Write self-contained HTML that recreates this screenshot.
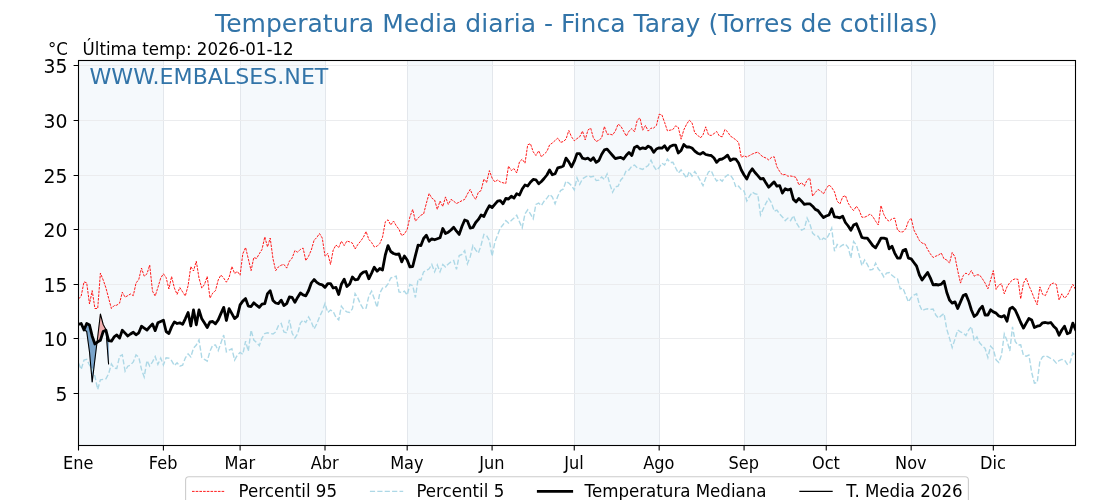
<!DOCTYPE html>
<html lang="es"><head><meta charset="utf-8"><title>Temperatura Media diaria - Finca Taray (Torres de cotillas)</title>
<style>html,body{margin:0;padding:0;background:#fff;overflow:hidden}svg{display:block}text{font-family:"DejaVu Sans", "Liberation Sans", sans-serif;fill:#000}</style></head><body>
<svg width="1120" height="500" viewBox="0 0 1120 500">
<rect width="1120" height="500" fill="#fff"/>
<rect x="78.50" y="60.50" width="84.91" height="385.00" fill="#f5f9fc"/>
<rect x="240.10" y="60.50" width="84.91" height="385.00" fill="#f5f9fc"/>
<rect x="407.18" y="60.50" width="84.91" height="385.00" fill="#f5f9fc"/>
<rect x="574.26" y="60.50" width="84.91" height="385.00" fill="#f5f9fc"/>
<rect x="744.08" y="60.50" width="82.17" height="385.00" fill="#f5f9fc"/>
<rect x="911.16" y="60.50" width="82.17" height="385.00" fill="#f5f9fc"/>
<path d="M163.50 60.50 V445.50 M240.50 60.50 V445.50 M325.50 60.50 V445.50 M407.50 60.50 V445.50 M492.50 60.50 V445.50 M574.50 60.50 V445.50 M659.50 60.50 V445.50 M744.50 60.50 V445.50 M826.50 60.50 V445.50 M911.50 60.50 V445.50 M993.50 60.50 V445.50" stroke="#e3e7ec" stroke-width="1" fill="none"/>
<path d="M78.50 393.50 H1075.50 M78.50 338.50 H1075.50 M78.50 284.50 H1075.50 M78.50 229.50 H1075.50 M78.50 175.50 H1075.50 M78.50 120.50 H1075.50 M78.50 65.50 H1075.50" stroke="#ebecee" stroke-width="1" fill="none"/>
<clipPath id="c"><rect x="78.50" y="60.50" width="997.00" height="385.00"/></clipPath>
<g clip-path="url(#c)" fill="none" stroke-linejoin="round">
<path d="M78.5 324.6 L81.2 323.8 L81.2 323.5 L78.5 324.4Z M81.2 323.8 L82.3 325.9 L81.2 323.5Z M84.1 329.6 L86.7 331.5 L86.7 323.5Z M86.7 331.5 L89.5 352.0 L89.5 325.0 L86.7 323.5Z M89.5 352.0 L92.2 382.0 L92.2 336.2 L89.5 325.0Z M92.2 382.0 L94.9 359.5 L94.9 344.0 L92.2 336.2Z M94.9 359.5 L97.0 342.4 L94.9 344.0Z M106.0 330.6 L108.6 364.4 L108.6 340.6Z" fill="#79a4cb" stroke="#79a4cb" stroke-width="0.4"/>
<path d="M82.3 325.9 L84.0 329.5 L84.0 330.0Z M84.0 329.5 L84.1 329.6 L84.0 330.0Z M97.0 342.4 L97.7 337.0 L97.7 341.9Z M97.7 337.0 L100.4 314.0 L100.4 340.2 L97.7 341.9Z M100.4 314.0 L103.2 324.5 L103.2 331.5 L100.4 340.2Z M103.2 324.5 L105.9 329.5 L105.9 330.2 L103.2 331.5Z M105.9 329.5 L106.0 330.6 L105.9 330.2Z" fill="#f1aeae" stroke="#f1aeae" stroke-width="0.4"/>
<path d="M78.5 299.0 L81.2 296.0 L84.0 281.9 L86.7 282.8 L89.5 304.0 L92.2 290.6 L94.9 308.5 L97.7 308.5 L100.4 273.1 L103.2 280.0 L105.9 287.8 L108.6 298.1 L111.4 308.5 L114.1 305.6 L116.8 305.2 L119.6 303.1 L122.3 292.2 L125.1 297.2 L127.8 295.6 L130.5 294.0 L133.3 295.6 L136.0 283.1 L138.8 279.4 L141.5 268.1 L144.2 276.2 L147.0 273.8 L149.7 265.0 L152.5 291.2 L155.2 296.0 L157.9 287.5 L160.7 278.1 L163.4 273.8 L166.1 277.5 L168.9 289.0 L171.6 276.5 L174.4 288.1 L177.1 294.4 L179.8 287.5 L182.6 291.9 L185.3 296.0 L188.1 285.6 L190.8 266.5 L193.5 271.0 L196.3 261.2 L199.0 278.1 L201.8 288.1 L204.5 284.4 L207.2 276.5 L210.0 298.1 L212.7 293.1 L215.5 290.6 L218.2 280.0 L220.9 275.0 L223.7 278.1 L226.4 282.2 L229.1 277.5 L231.9 266.5 L234.6 273.5 L237.4 271.5 L240.1 275.2 L242.8 253.8 L245.6 247.5 L248.3 258.8 L251.1 270.6 L253.8 257.5 L256.5 258.5 L259.3 253.8 L262.0 249.4 L264.8 236.9 L267.5 246.9 L270.2 238.1 L273.0 258.8 L275.7 270.6 L278.4 266.9 L281.2 265.2 L283.9 264.4 L286.7 268.1 L289.4 261.2 L292.1 258.1 L294.9 250.6 L297.6 252.2 L300.4 249.4 L303.1 248.1 L305.8 260.6 L308.6 256.2 L311.3 250.0 L314.1 240.2 L316.8 237.5 L319.5 233.5 L322.3 238.1 L325.0 256.2 L327.8 253.5 L330.5 264.4 L333.2 250.0 L336.0 245.0 L338.7 247.5 L341.4 241.2 L344.2 245.6 L346.9 241.0 L349.7 241.9 L352.4 243.1 L355.1 249.0 L357.9 244.4 L360.6 241.2 L363.4 237.2 L366.1 231.5 L368.8 239.4 L371.6 242.5 L374.3 246.9 L377.1 246.2 L379.8 243.5 L382.5 237.2 L385.3 221.9 L388.0 219.8 L390.7 225.0 L393.5 221.0 L396.2 225.6 L399.0 229.4 L401.7 235.6 L404.4 234.0 L407.2 229.4 L409.9 216.9 L412.7 209.4 L415.4 221.2 L418.1 218.1 L420.9 215.2 L423.6 214.0 L426.4 203.1 L429.1 193.5 L431.8 198.1 L434.6 200.0 L437.3 209.4 L440.0 201.0 L442.8 206.5 L445.5 196.9 L448.3 204.4 L451.0 199.4 L453.7 201.2 L456.5 203.5 L459.2 202.2 L462.0 200.6 L464.7 199.4 L467.4 194.0 L470.2 189.4 L472.9 195.6 L475.7 199.4 L478.4 192.2 L481.1 190.6 L483.9 179.0 L486.6 182.5 L489.4 170.6 L492.1 178.1 L494.8 181.9 L497.6 180.0 L500.3 181.9 L503.0 182.8 L505.8 183.5 L508.5 166.1 L511.3 170.5 L514.0 168.6 L516.7 173.0 L519.5 161.8 L522.2 159.2 L525.0 163.2 L527.7 144.9 L530.4 143.6 L533.2 151.8 L535.9 155.5 L538.7 150.8 L541.4 156.8 L544.1 154.2 L546.9 151.5 L549.6 144.9 L552.3 143.0 L555.1 140.5 L557.8 138.0 L560.6 142.4 L563.3 141.5 L566.0 139.2 L568.8 130.5 L571.5 136.8 L574.3 140.8 L577.0 138.6 L579.7 136.8 L582.5 131.1 L585.2 139.9 L588.0 129.9 L590.7 128.2 L593.4 138.0 L596.2 141.5 L598.9 140.2 L601.7 137.8 L604.4 126.5 L607.1 134.2 L609.9 134.2 L612.6 134.9 L615.3 131.1 L618.1 124.2 L620.8 126.1 L623.6 131.1 L626.3 136.1 L629.0 131.1 L631.8 128.6 L634.5 131.8 L637.3 119.9 L640.0 118.0 L642.7 130.2 L645.5 125.5 L648.2 131.1 L651.0 128.2 L653.7 128.0 L656.4 125.5 L659.2 114.2 L661.9 114.9 L664.6 122.4 L667.4 130.8 L670.1 130.2 L672.9 129.5 L675.6 125.8 L678.3 127.4 L681.1 139.2 L683.8 129.9 L686.6 124.2 L689.3 120.2 L692.0 122.8 L694.8 133.0 L697.5 134.9 L700.3 138.0 L703.0 134.9 L705.7 126.8 L708.5 134.9 L711.2 135.5 L714.0 133.6 L716.7 131.5 L719.4 136.1 L722.2 136.8 L724.9 129.5 L727.6 131.8 L730.4 136.1 L733.1 137.8 L735.9 139.9 L738.6 142.4 L741.3 157.4 L744.1 155.8 L746.8 157.0 L749.6 155.5 L752.3 154.0 L755.0 153.0 L757.8 152.0 L760.5 154.9 L763.3 157.0 L766.0 158.0 L768.7 159.9 L771.5 157.4 L774.2 156.8 L776.9 166.8 L779.7 171.5 L782.4 175.0 L785.2 174.4 L787.9 176.2 L790.6 176.0 L793.4 176.5 L796.1 177.5 L798.9 185.0 L801.6 182.5 L804.3 186.2 L807.1 180.0 L809.8 178.1 L812.6 196.2 L815.3 192.5 L818.0 189.4 L820.8 191.2 L823.5 193.8 L826.2 188.8 L829.0 184.8 L831.7 187.5 L834.5 191.9 L837.2 201.2 L839.9 204.0 L842.7 196.9 L845.4 195.6 L848.2 203.1 L850.9 207.5 L853.6 210.6 L856.4 206.2 L859.1 210.0 L861.9 217.2 L864.6 217.2 L867.3 216.0 L870.1 214.0 L872.8 216.5 L875.6 221.2 L878.3 225.0 L881.0 205.6 L883.8 214.4 L886.5 219.4 L889.2 221.2 L892.0 218.8 L894.7 218.1 L897.5 230.0 L900.2 231.9 L902.9 231.9 L905.7 228.8 L908.4 221.2 L911.2 218.1 L913.9 230.0 L916.6 235.0 L919.4 240.6 L922.1 243.1 L924.9 243.8 L927.6 249.4 L930.3 253.8 L933.1 257.5 L935.8 256.2 L938.5 255.0 L941.3 253.1 L944.0 258.8 L946.8 260.0 L949.5 263.1 L952.2 252.5 L955.0 256.9 L957.7 270.6 L960.5 283.1 L963.2 275.6 L965.9 273.1 L968.7 274.8 L971.4 270.6 L974.2 276.2 L976.9 274.8 L979.6 275.0 L982.4 278.8 L985.1 283.1 L987.9 288.8 L990.6 280.0 L993.3 270.6 L996.1 289.4 L998.8 285.0 L1001.5 283.8 L1004.3 293.8 L1007.0 286.9 L1009.8 282.5 L1012.5 280.0 L1015.2 278.8 L1018.0 279.4 L1020.7 298.8 L1023.5 283.1 L1026.2 278.1 L1028.9 285.6 L1031.7 291.9 L1034.4 298.8 L1037.2 304.8 L1039.9 286.9 L1042.6 294.4 L1045.4 295.6 L1048.1 289.4 L1050.8 284.0 L1053.6 283.1 L1056.3 284.4 L1059.1 300.0 L1061.8 293.8 L1064.5 298.1 L1067.3 295.6 L1070.0 290.0 L1072.8 284.4 L1075.5 289.4" stroke="#ff0000" stroke-width="0.9" stroke-dasharray="2.6 1.1" stroke-linejoin="miter"/>
<path d="M78.5 363.1 L81.2 369.4 L84.0 360.0 L86.7 359.4 L89.5 365.0 L92.2 369.4 L94.9 376.2 L97.7 389.4 L100.4 379.8 L103.2 379.4 L105.9 378.8 L108.6 373.8 L111.4 364.0 L114.1 368.1 L116.8 368.5 L119.6 356.2 L122.3 354.8 L125.1 371.2 L127.8 366.2 L130.5 365.0 L133.3 361.9 L136.0 355.0 L138.8 357.2 L141.5 369.4 L144.2 376.9 L147.0 360.6 L149.7 366.0 L152.5 361.9 L155.2 356.5 L157.9 364.4 L160.7 358.1 L163.4 365.0 L166.1 357.8 L168.9 358.1 L171.6 360.6 L174.4 365.6 L177.1 362.8 L179.8 366.2 L182.6 365.2 L185.3 358.1 L188.1 353.8 L190.8 356.9 L193.5 348.1 L196.3 345.0 L199.0 340.0 L201.8 357.5 L204.5 359.4 L207.2 361.2 L210.0 351.2 L212.7 345.2 L215.5 345.0 L218.2 350.6 L220.9 343.1 L223.7 335.0 L226.4 351.9 L229.1 350.0 L231.9 348.8 L234.6 360.0 L237.4 355.0 L240.1 352.5 L242.8 354.4 L245.6 341.2 L248.3 351.2 L251.1 330.0 L253.8 340.0 L256.5 342.5 L259.3 345.6 L262.0 338.1 L264.8 333.5 L267.5 332.8 L270.2 333.5 L273.0 334.0 L275.7 331.9 L278.4 325.6 L281.2 323.5 L283.9 331.9 L286.7 332.8 L289.4 319.8 L292.1 333.1 L294.9 338.1 L297.6 333.8 L300.4 323.1 L303.1 320.2 L305.8 322.5 L308.6 316.9 L311.3 321.9 L314.1 329.0 L316.8 323.8 L319.5 316.9 L322.3 311.0 L325.0 303.5 L327.8 312.5 L330.5 310.0 L333.2 311.5 L336.0 317.5 L338.7 320.0 L341.4 306.2 L344.2 310.0 L346.9 311.9 L349.7 312.5 L352.4 308.8 L355.1 293.6 L357.9 298.1 L360.6 304.4 L363.4 309.0 L366.1 308.1 L368.8 296.2 L371.6 291.2 L374.3 298.8 L377.1 307.5 L379.8 293.1 L382.5 288.1 L385.3 287.5 L388.0 283.8 L390.7 278.1 L393.5 276.9 L396.2 276.2 L399.0 291.9 L401.7 292.5 L404.4 291.2 L407.2 295.0 L409.9 284.4 L412.7 285.6 L415.4 297.5 L418.1 278.8 L420.9 280.0 L423.6 271.9 L426.4 270.6 L429.1 268.8 L431.8 264.4 L434.6 271.9 L437.3 265.0 L440.0 271.9 L442.8 264.4 L445.5 266.9 L448.3 264.0 L451.0 261.9 L453.7 260.6 L456.5 269.4 L459.2 255.6 L462.0 254.4 L464.7 250.6 L467.4 263.8 L470.2 256.9 L472.9 245.6 L475.7 250.0 L478.4 253.1 L481.1 245.0 L483.9 234.4 L486.6 235.6 L489.4 240.6 L492.1 256.2 L494.8 242.5 L497.6 235.0 L500.3 228.1 L503.0 224.8 L505.8 220.6 L508.5 223.1 L511.3 220.6 L514.0 218.1 L516.7 215.2 L519.5 221.9 L522.2 227.8 L525.0 213.8 L527.7 209.8 L530.4 213.8 L533.2 218.8 L535.9 204.4 L538.7 203.1 L541.4 205.6 L544.1 201.2 L546.9 198.1 L549.6 194.4 L552.3 196.9 L555.1 203.8 L557.8 196.2 L560.6 190.6 L563.3 189.0 L566.0 181.2 L568.8 183.1 L571.5 185.6 L574.3 190.0 L577.0 177.8 L579.7 184.4 L582.5 178.8 L585.2 177.2 L588.0 175.6 L590.7 176.9 L593.4 176.2 L596.2 180.6 L598.9 180.2 L601.7 176.9 L604.4 179.4 L607.1 174.0 L609.9 184.4 L612.6 192.2 L615.3 186.9 L618.1 186.2 L620.8 180.0 L623.6 176.9 L626.3 170.2 L629.0 170.0 L631.8 166.2 L634.5 165.0 L637.3 167.8 L640.0 168.5 L642.7 169.4 L645.5 167.2 L648.2 165.6 L651.0 160.2 L653.7 166.2 L656.4 170.2 L659.2 167.5 L661.9 163.1 L664.6 165.0 L667.4 159.0 L670.1 162.5 L672.9 162.2 L675.6 167.8 L678.3 173.1 L681.1 170.0 L683.8 174.0 L686.6 178.1 L689.3 171.5 L692.0 176.2 L694.8 171.5 L697.5 175.6 L700.3 180.6 L703.0 185.6 L705.7 178.1 L708.5 171.9 L711.2 170.6 L714.0 176.9 L716.7 181.0 L719.4 179.0 L722.2 181.2 L724.9 177.2 L727.6 175.0 L730.4 175.0 L733.1 179.0 L735.9 187.2 L738.6 186.2 L741.3 189.8 L744.1 191.0 L746.8 201.0 L749.6 196.2 L752.3 192.2 L755.0 193.8 L757.8 194.4 L760.5 215.0 L763.3 208.8 L766.0 203.1 L768.7 198.5 L771.5 202.8 L774.2 211.2 L776.9 210.2 L779.7 214.0 L782.4 216.9 L785.2 220.6 L787.9 218.1 L790.6 220.6 L793.4 215.6 L796.1 222.5 L798.9 226.9 L801.6 230.2 L804.3 228.8 L807.1 218.1 L809.8 223.8 L812.6 233.1 L815.3 235.6 L818.0 236.2 L820.8 240.6 L823.5 238.1 L826.2 239.4 L829.0 234.4 L831.7 228.1 L834.5 251.2 L837.2 244.4 L839.9 246.9 L842.7 245.0 L845.4 244.0 L848.2 247.5 L850.9 258.1 L853.6 241.5 L856.4 245.0 L859.1 255.0 L861.9 265.6 L864.6 260.0 L867.3 264.4 L870.1 270.0 L872.8 269.4 L875.6 263.1 L878.3 269.0 L881.0 271.9 L883.8 276.9 L886.5 273.1 L889.2 272.5 L892.0 275.2 L894.7 277.5 L897.5 278.8 L900.2 288.8 L902.9 288.1 L905.7 295.0 L908.4 301.9 L911.2 297.5 L913.9 295.0 L916.6 293.8 L919.4 304.8 L922.1 310.6 L924.9 309.4 L927.6 308.8 L930.3 309.4 L933.1 309.0 L935.8 315.0 L938.5 318.1 L941.3 315.6 L944.0 313.5 L946.8 329.4 L949.5 338.1 L952.2 347.5 L955.0 339.0 L957.7 330.0 L960.5 331.9 L963.2 333.1 L965.9 335.6 L968.7 330.0 L971.4 326.6 L974.2 340.6 L976.9 336.9 L979.6 342.8 L982.4 346.0 L985.1 348.5 L987.9 357.5 L990.6 346.2 L993.3 349.0 L996.1 360.0 L998.8 362.5 L1001.5 355.0 L1004.3 334.0 L1007.0 340.6 L1009.8 351.0 L1012.5 326.9 L1015.2 341.5 L1018.0 345.0 L1020.7 344.8 L1023.5 355.6 L1026.2 356.2 L1028.9 355.0 L1031.7 372.5 L1034.4 383.1 L1037.2 382.5 L1039.9 361.2 L1042.6 356.9 L1045.4 355.6 L1048.1 356.9 L1050.8 358.5 L1053.6 360.0 L1056.3 363.1 L1059.1 360.6 L1061.8 359.4 L1064.5 360.0 L1067.3 364.4 L1070.0 362.8 L1072.8 353.1 L1075.5 355.6" stroke="#add8e6" stroke-width="1.4" stroke-dasharray="5.2 2.2" stroke-linejoin="miter"/>
<path d="M78.5 324.4 L81.2 323.5 L84.0 330.0 L86.7 323.5 L89.5 325.0 L92.2 336.2 L94.9 344.0 L97.7 341.9 L100.4 340.2 L103.2 331.5 L105.9 330.2 L108.6 340.6 L111.4 341.2 L114.1 336.9 L116.8 335.0 L119.6 338.1 L122.3 330.2 L125.1 333.1 L127.8 336.0 L130.5 334.0 L133.3 332.2 L136.0 334.8 L138.8 332.8 L141.5 326.2 L144.2 328.1 L147.0 330.0 L149.7 326.9 L152.5 324.0 L155.2 330.6 L157.9 322.8 L160.7 321.5 L163.4 320.2 L166.1 331.5 L168.9 333.5 L171.6 326.9 L174.4 321.9 L177.1 323.5 L179.8 322.8 L182.6 324.4 L185.3 318.8 L188.1 312.5 L190.8 326.0 L193.5 310.0 L196.3 324.8 L199.0 310.0 L201.8 318.8 L204.5 323.1 L207.2 327.5 L210.0 321.9 L212.7 321.5 L215.5 323.8 L218.2 319.9 L220.9 313.6 L223.7 307.4 L226.4 320.5 L229.1 308.6 L231.9 313.6 L234.6 318.6 L237.4 316.1 L240.1 304.9 L242.8 301.1 L245.6 298.6 L248.3 306.1 L251.1 306.5 L253.8 302.8 L256.5 305.2 L259.3 307.4 L262.0 304.2 L264.8 303.6 L267.5 293.6 L270.2 290.8 L273.0 300.5 L275.7 303.0 L278.4 303.6 L281.2 300.2 L283.9 305.5 L286.7 303.6 L289.4 297.0 L292.1 297.4 L294.9 302.4 L297.6 297.4 L300.4 293.0 L303.1 294.9 L305.8 295.8 L308.6 290.5 L311.3 283.0 L314.1 279.5 L316.8 282.4 L319.5 284.2 L322.3 284.9 L325.0 287.4 L327.8 283.6 L330.5 283.6 L333.2 288.0 L336.0 287.4 L338.7 294.5 L341.4 284.2 L344.2 279.2 L346.9 286.5 L349.7 284.0 L352.4 277.0 L355.1 279.9 L357.9 279.4 L360.6 274.4 L363.4 272.2 L366.1 271.5 L368.8 278.8 L371.6 273.1 L374.3 267.2 L377.1 271.2 L379.8 268.5 L382.5 270.0 L385.3 255.0 L388.0 245.6 L390.7 251.5 L393.5 253.5 L396.2 254.4 L399.0 254.0 L401.7 261.9 L404.4 256.0 L407.2 260.0 L409.9 266.9 L412.7 266.5 L415.4 255.6 L418.1 245.2 L420.9 245.6 L423.6 238.5 L426.4 235.2 L429.1 241.2 L431.8 238.8 L434.6 239.8 L437.3 238.8 L440.0 237.8 L442.8 228.5 L445.5 233.5 L448.3 232.2 L451.0 230.0 L453.7 227.2 L456.5 231.2 L459.2 234.4 L462.0 226.2 L464.7 220.0 L467.4 221.0 L470.2 228.1 L472.9 227.5 L475.7 222.5 L478.4 219.4 L481.1 215.0 L483.9 216.5 L486.6 210.6 L489.4 205.6 L492.1 207.5 L494.8 204.4 L497.6 201.2 L500.3 200.6 L503.0 203.8 L505.8 198.5 L508.5 199.0 L511.3 196.2 L514.0 198.1 L516.7 193.8 L519.5 195.0 L522.2 189.0 L525.0 185.0 L527.7 186.0 L530.4 182.2 L533.2 179.4 L535.9 179.8 L538.7 183.8 L541.4 181.5 L544.1 178.5 L546.9 175.0 L549.6 170.0 L552.3 174.8 L555.1 173.8 L557.8 167.8 L560.6 167.2 L563.3 166.0 L566.0 158.1 L568.8 161.9 L571.5 166.9 L574.3 161.2 L577.0 153.6 L579.7 153.6 L582.5 158.2 L585.2 159.0 L588.0 158.2 L590.7 160.5 L593.4 157.8 L596.2 162.4 L598.9 160.5 L601.7 154.2 L604.4 149.9 L607.1 149.2 L609.9 152.4 L612.6 155.5 L615.3 158.6 L618.1 157.8 L620.8 157.4 L623.6 159.0 L626.3 155.2 L629.0 152.4 L631.8 155.5 L634.5 147.4 L637.3 146.1 L640.0 149.0 L642.7 147.8 L645.5 148.6 L648.2 146.1 L651.0 147.8 L653.7 152.4 L656.4 149.0 L659.2 147.8 L661.9 148.2 L664.6 145.8 L667.4 150.2 L670.1 146.5 L672.9 145.2 L675.6 145.2 L678.3 153.0 L681.1 150.5 L683.8 144.5 L686.6 147.0 L689.3 147.0 L692.0 148.0 L694.8 151.1 L697.5 153.2 L700.3 154.2 L703.0 152.4 L705.7 154.5 L708.5 155.2 L711.2 155.5 L714.0 158.0 L716.7 162.4 L719.4 159.5 L722.2 159.0 L724.9 157.4 L727.6 155.2 L730.4 160.5 L733.1 159.0 L735.9 159.2 L738.6 163.0 L741.3 170.0 L744.1 175.0 L746.8 179.0 L749.6 172.5 L752.3 168.8 L755.0 172.5 L757.8 175.6 L760.5 178.8 L763.3 178.5 L766.0 183.1 L768.7 187.2 L771.5 184.4 L774.2 181.9 L776.9 186.2 L779.7 185.6 L782.4 193.1 L785.2 188.8 L787.9 190.0 L790.6 189.0 L793.4 199.4 L796.1 201.9 L798.9 198.5 L801.6 201.2 L804.3 204.4 L807.1 203.8 L809.8 203.8 L812.6 206.2 L815.3 209.4 L818.0 210.6 L820.8 214.4 L823.5 217.5 L826.2 216.0 L829.0 215.0 L831.7 208.8 L834.5 216.9 L837.2 217.2 L839.9 217.8 L842.7 216.2 L845.4 222.5 L848.2 226.0 L850.9 230.2 L853.6 225.1 L856.4 223.8 L859.1 230.2 L861.9 237.5 L864.6 238.1 L867.3 238.1 L870.1 241.9 L872.8 245.6 L875.6 247.8 L878.3 243.1 L881.0 238.1 L883.8 238.1 L886.5 238.8 L889.2 248.8 L892.0 246.2 L894.7 253.1 L897.5 258.1 L900.2 258.1 L902.9 250.6 L905.7 249.4 L908.4 258.1 L911.2 258.8 L913.9 262.5 L916.6 266.2 L919.4 275.0 L922.1 280.0 L924.9 276.2 L927.6 272.5 L930.3 277.9 L933.1 284.8 L935.8 284.5 L938.5 285.0 L941.3 284.1 L944.0 281.2 L946.8 292.5 L949.5 300.0 L952.2 303.1 L955.0 301.9 L957.7 308.5 L960.5 301.9 L963.2 295.6 L965.9 294.4 L968.7 301.2 L971.4 310.0 L974.2 316.5 L976.9 314.4 L979.6 309.4 L982.4 306.2 L985.1 315.0 L987.9 315.0 L990.6 309.8 L993.3 311.9 L996.1 313.1 L998.8 316.0 L1001.5 316.9 L1004.3 315.6 L1007.0 321.2 L1009.8 308.8 L1012.5 307.2 L1015.2 310.0 L1018.0 316.2 L1020.7 322.5 L1023.5 328.1 L1026.2 323.1 L1028.9 318.5 L1031.7 320.0 L1034.4 327.5 L1037.2 326.2 L1039.9 325.6 L1042.6 322.8 L1045.4 322.5 L1048.1 323.1 L1050.8 322.5 L1053.6 326.2 L1056.3 328.8 L1059.1 335.2 L1061.8 330.0 L1064.5 326.2 L1067.3 333.8 L1070.0 332.5 L1072.8 323.1 L1075.5 329.4" stroke="#000" stroke-width="2.8" stroke-linecap="square"/>
<path d="M78.5 324.6 L81.2 323.8 L84.0 329.5 L86.7 331.5 L89.5 352.0 L92.2 382.0 L94.9 359.5 L97.7 337.0 L100.4 314.0 L103.2 324.5 L105.9 329.5 L108.6 364.4" stroke="#000" stroke-width="1.1"/>
</g>
<rect x="78.50" y="60.50" width="997.00" height="385.00" fill="none" stroke="#000" stroke-width="1.1"/>
<path d="M78.50 445.50 v4.9 M163.41 445.50 v4.9 M240.10 445.50 v4.9 M325.01 445.50 v4.9 M407.18 445.50 v4.9 M492.09 445.50 v4.9 M574.26 445.50 v4.9 M659.17 445.50 v4.9 M744.08 445.50 v4.9 M826.25 445.50 v4.9 M911.16 445.50 v4.9 M993.33 445.50 v4.9 M78.50 393.50 h-4.9 M78.50 338.50 h-4.9 M78.50 284.50 h-4.9 M78.50 229.50 h-4.9 M78.50 175.50 h-4.9 M78.50 120.50 h-4.9 M78.50 65.50 h-4.9" stroke="#000" stroke-width="1.1" fill="none"/>
<text transform="translate(78.20 469.00) scale(0.9700 1.0700)" font-size="16.67" text-anchor="middle">Ene</text>
<text transform="translate(163.11 469.00) scale(0.9700 1.0700)" font-size="16.67" text-anchor="middle">Feb</text>
<text transform="translate(239.80 469.00) scale(0.9700 1.0700)" font-size="16.67" text-anchor="middle">Mar</text>
<text transform="translate(324.71 469.00) scale(0.9700 1.0700)" font-size="16.67" text-anchor="middle">Abr</text>
<text transform="translate(406.88 469.00) scale(0.9700 1.0700)" font-size="16.67" text-anchor="middle">May</text>
<text transform="translate(491.79 469.00) scale(0.9700 1.0700)" font-size="16.67" text-anchor="middle">Jun</text>
<text transform="translate(573.96 469.00) scale(0.9700 1.0700)" font-size="16.67" text-anchor="middle">Jul</text>
<text transform="translate(658.87 469.00) scale(0.9700 1.0700)" font-size="16.67" text-anchor="middle">Ago</text>
<text transform="translate(743.78 469.00) scale(0.9700 1.0700)" font-size="16.67" text-anchor="middle">Sep</text>
<text transform="translate(825.95 469.00) scale(0.9700 1.0700)" font-size="16.67" text-anchor="middle">Oct</text>
<text transform="translate(910.86 469.00) scale(0.9700 1.0700)" font-size="16.67" text-anchor="middle">Nov</text>
<text transform="translate(993.03 469.00) scale(0.9700 1.0700)" font-size="16.67" text-anchor="middle">Dic</text>
<text transform="translate(67.50 400.70) scale(0.9700 1.0000)" font-size="19.44" text-anchor="end">5</text>
<text transform="translate(67.50 345.70) scale(0.9700 1.0000)" font-size="19.44" text-anchor="end">10</text>
<text transform="translate(67.50 291.70) scale(0.9700 1.0000)" font-size="19.44" text-anchor="end">15</text>
<text transform="translate(67.50 236.70) scale(0.9700 1.0000)" font-size="19.44" text-anchor="end">20</text>
<text transform="translate(67.50 182.70) scale(0.9700 1.0000)" font-size="19.44" text-anchor="end">25</text>
<text transform="translate(67.50 127.70) scale(0.9700 1.0000)" font-size="19.44" text-anchor="end">30</text>
<text transform="translate(67.50 72.70) scale(0.9700 1.0000)" font-size="19.44" text-anchor="end">35</text>
<text transform="translate(576.40 31.50) scale(1.0017 1.0000)" font-size="25.00" text-anchor="middle" style="fill:#3274a8">Temperatura Media diaria - Finca Taray (Torres de cotillas)</text>
<text transform="translate(68.00 55.30) scale(1.0000 1.0700)" font-size="16.67" text-anchor="end">°C</text>
<text transform="translate(82.60 55.30) scale(1.0000 1.0700)" font-size="16.67" text-anchor="start">Última temp: 2026-01-12</text>
<text transform="translate(89.50 83.75) scale(0.9960 0.9500)" font-size="22.22" text-anchor="start" style="fill:#3274a8">WWW.EMBALSES.NET</text>
<rect x="185.6" y="476.8" width="782.8" height="40" rx="3.3" ry="3.3" fill="#fff" fill-opacity="0.8" stroke="#cccccc" stroke-width="1.1"/>
<path d="M192.0 491.4 H225.3" stroke="#ff0000" stroke-width="0.9" stroke-dasharray="2.6 1.1"/>
<text transform="translate(238.60 497.00) scale(1.0000 1.0700)" font-size="16.67" text-anchor="start">Percentil 95</text>
<path d="M369.9 491.4 H403.2" stroke="#add8e6" stroke-width="1.4" stroke-dasharray="5.2 2.2"/>
<text transform="translate(416.40 497.00) scale(1.0000 1.0700)" font-size="16.67" text-anchor="start">Percentil 5</text>
<path d="M538.3 491.4 H571.7" stroke="#000" stroke-width="2.8" stroke-linecap="square"/>
<text transform="translate(584.60 497.00) scale(1.0000 1.0700)" font-size="16.67" text-anchor="start">Temperatura Mediana</text>
<path d="M799.3 491.4 H832.7" stroke="#000" stroke-width="1.1"/>
<text transform="translate(846.20 497.00) scale(1.0000 1.0700)" font-size="16.67" text-anchor="start">T. Media 2026</text>
</svg></body></html>
